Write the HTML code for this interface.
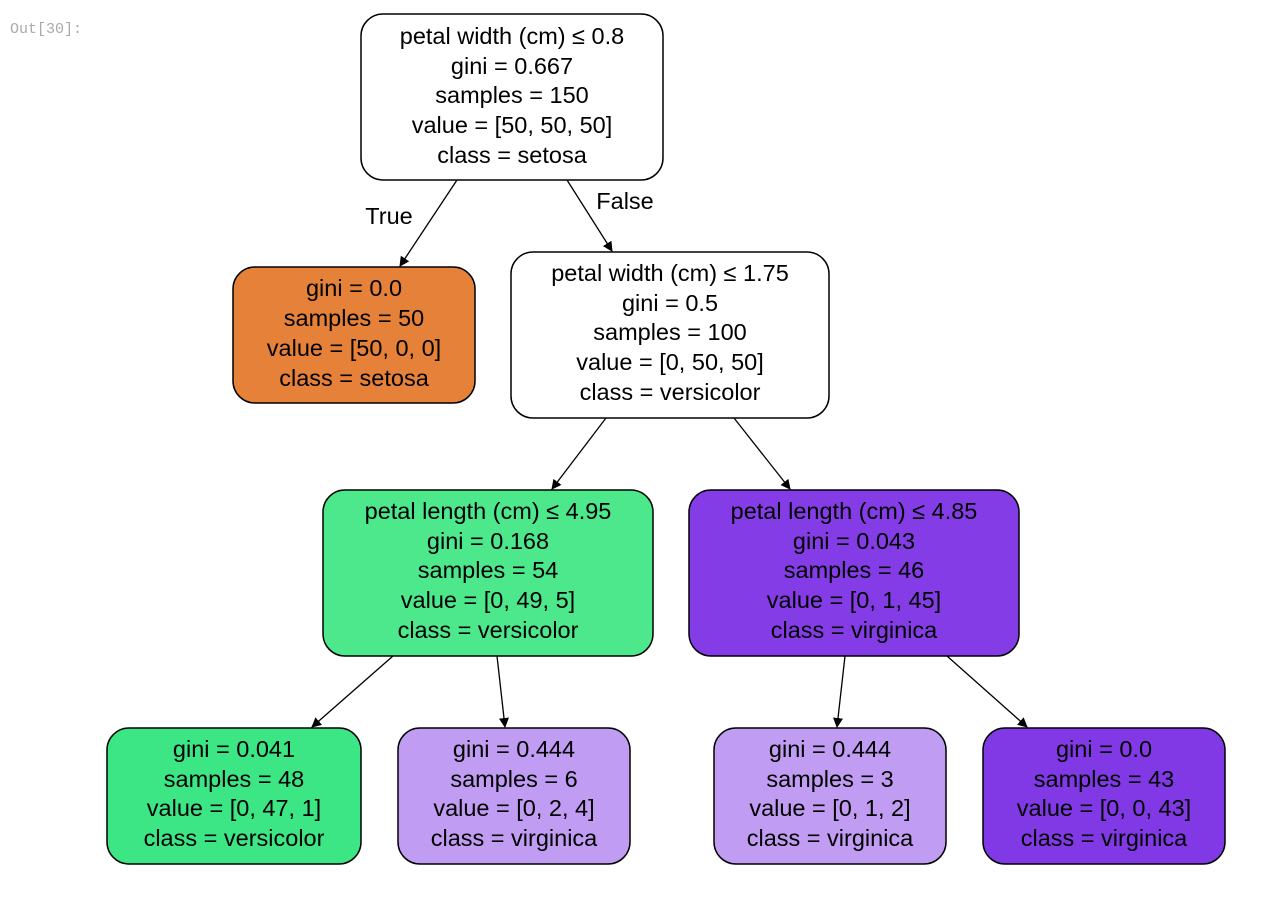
<!DOCTYPE html>
<html><head><meta charset="utf-8"><style>
html,body{margin:0;padding:0;background:#fff;width:1274px;height:899px;overflow:hidden}
svg text{font-family:"Liberation Sans",sans-serif;font-size:23.5px;fill:#000}
</style></head><body>
<svg width="1274" height="899" xmlns="http://www.w3.org/2000/svg">
<defs><marker id="a" markerWidth="10" markerHeight="10" refX="9" refY="5" orient="auto" markerUnits="userSpaceOnUse" viewBox="0 0 10 10"><path d="M0,0 L10,5 L0,10 z" fill="#000"/></marker></defs>
<text x="10" y="33" style="font-size:15px;fill:#aaa;font-family:'Liberation Mono',monospace">Out[30]:</text>
<g stroke="#000" stroke-width="1.5">
<rect x="361" y="14" width="302" height="166" rx="22" fill="#fff"/>
<rect x="233" y="267" width="242" height="136" rx="22" fill="#e58139"/>
<rect x="511" y="252" width="318" height="166" rx="22" fill="#fff"/>
<rect x="323" y="490" width="330" height="166" rx="22" fill="#4de88b"/>
<rect x="689" y="490" width="330" height="166" rx="22" fill="#843de6"/>
<rect x="107" y="728" width="254" height="136" rx="22" fill="#3de684"/>
<rect x="398" y="728" width="232" height="136" rx="22" fill="#c09cf2"/>
<rect x="714" y="728" width="232" height="136" rx="22" fill="#c09cf2"/>
<rect x="983" y="728" width="242" height="136" rx="22" fill="#8139e5"/>
<g fill="none" stroke-width="1.3">
<line x1="457" y1="180" x2="400" y2="266" marker-end="url(#a)"/>
<line x1="567" y1="180" x2="612" y2="251" marker-end="url(#a)"/>
<line x1="606" y1="418" x2="552" y2="489" marker-end="url(#a)"/>
<line x1="734" y1="418" x2="790" y2="489" marker-end="url(#a)"/>
<line x1="393" y1="656" x2="312" y2="727" marker-end="url(#a)"/>
<line x1="497" y1="656" x2="505" y2="727" marker-end="url(#a)"/>
<line x1="845" y1="656" x2="837" y2="727" marker-end="url(#a)"/>
<line x1="947" y1="656" x2="1027" y2="727" marker-end="url(#a)"/>
</g></g>
<g text-anchor="middle">
<text x="389" y="224">True</text><text x="625" y="209">False</text>
<text x="512" y="44">petal width (cm) ≤ 0.8</text><text x="512" y="74">gini = 0.667</text><text x="512" y="103">samples = 150</text><text x="512" y="133">value = [50, 50, 50]</text><text x="512" y="163">class = setosa</text>
<text x="354" y="296">gini = 0.0</text><text x="354" y="326">samples = 50</text><text x="354" y="356">value = [50, 0, 0]</text><text x="354" y="386">class = setosa</text>
<text x="670" y="281">petal width (cm) ≤ 1.75</text><text x="670" y="311">gini = 0.5</text><text x="670" y="340">samples = 100</text><text x="670" y="370">value = [0, 50, 50]</text><text x="670" y="400">class = versicolor</text>
<text x="488" y="519">petal length (cm) ≤ 4.95</text><text x="488" y="549">gini = 0.168</text><text x="488" y="578">samples = 54</text><text x="488" y="608">value = [0, 49, 5]</text><text x="488" y="638">class = versicolor</text>
<text x="854" y="519">petal length (cm) ≤ 4.85</text><text x="854" y="549">gini = 0.043</text><text x="854" y="578">samples = 46</text><text x="854" y="608">value = [0, 1, 45]</text><text x="854" y="638">class = virginica</text>
<text x="234" y="757">gini = 0.041</text><text x="234" y="787">samples = 48</text><text x="234" y="816">value = [0, 47, 1]</text><text x="234" y="846">class = versicolor</text>
<text x="514" y="757">gini = 0.444</text><text x="514" y="787">samples = 6</text><text x="514" y="816">value = [0, 2, 4]</text><text x="514" y="846">class = virginica</text>
<text x="830" y="757">gini = 0.444</text><text x="830" y="787">samples = 3</text><text x="830" y="816">value = [0, 1, 2]</text><text x="830" y="846">class = virginica</text>
<text x="1104" y="757">gini = 0.0</text><text x="1104" y="787">samples = 43</text><text x="1104" y="816">value = [0, 0, 43]</text><text x="1104" y="846">class = virginica</text>
</g>
</svg>
</body></html>
